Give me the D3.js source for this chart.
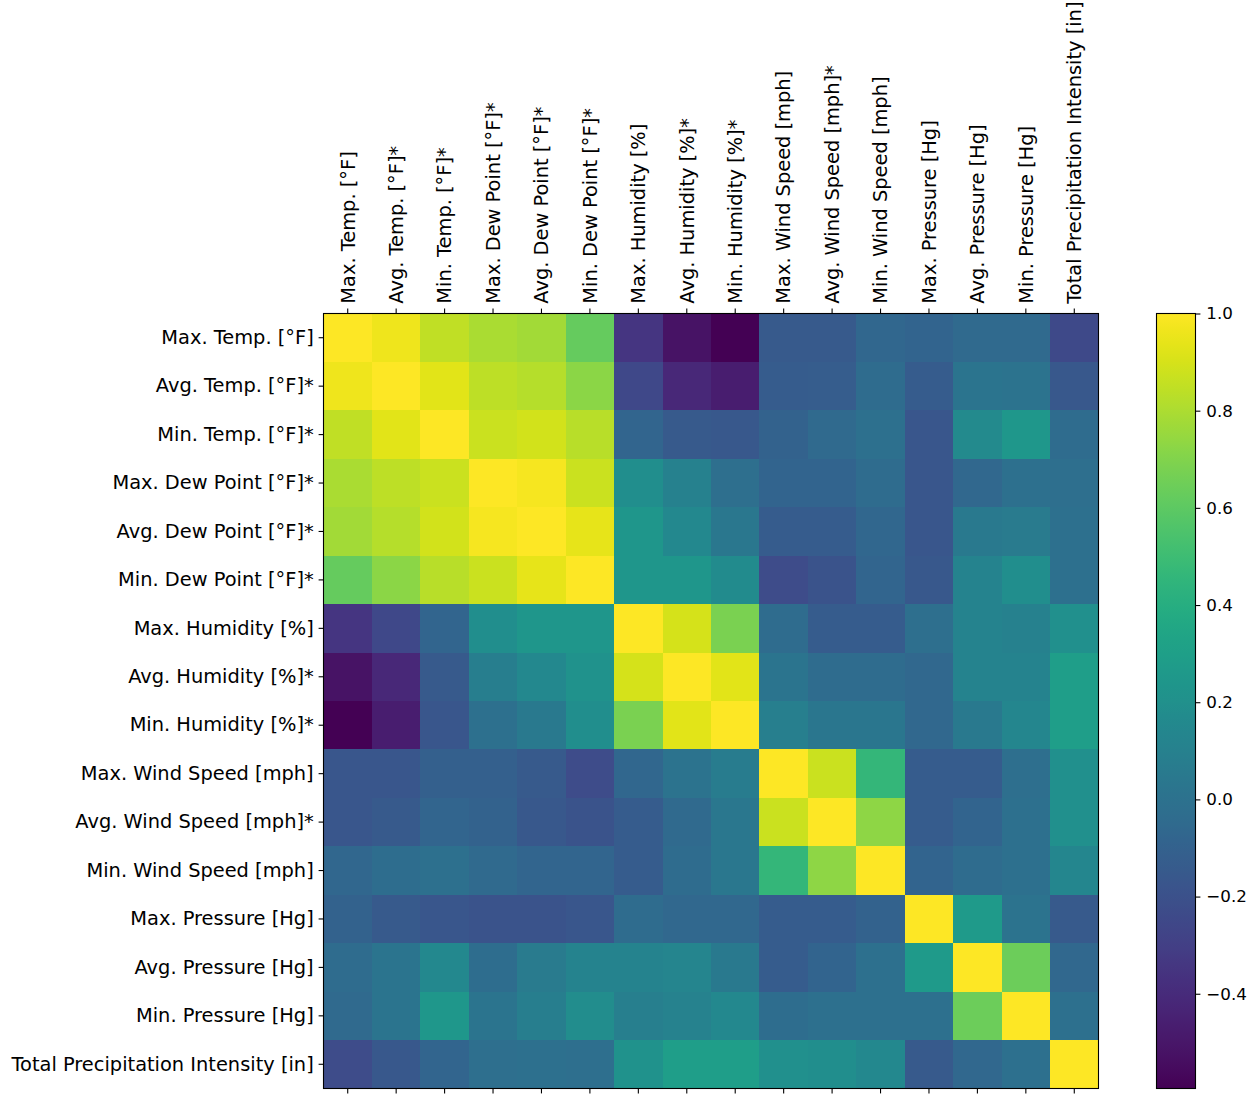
<!DOCTYPE html>
<html>
<head>
<meta charset="utf-8">
<script src="https://cdn.jsdelivr.net/npm/d3@7"></script>
<style>
  body { margin: 0; background: #fff; }
  text { font-family: "DejaVu Sans", sans-serif; fill: #000; }
</style>
</head>
<body>
<div id="chart"></div>
<script>
// variable names (same order on both axes)
const labels = [
  "Max. Temp. [°F]", "Avg. Temp. [°F]*", "Min. Temp. [°F]*",
  "Max. Dew Point [°F]*", "Avg. Dew Point [°F]*", "Min. Dew Point [°F]*",
  "Max. Humidity [%]", "Avg. Humidity [%]*", "Min. Humidity [%]*",
  "Max. Wind Speed [mph]", "Avg. Wind Speed [mph]*", "Min. Wind Speed [mph]",
  "Max. Pressure [Hg]", "Avg. Pressure [Hg]", "Min. Pressure [Hg]",
  "Total Precipitation Intensity [in]"
];

// correlation rows
const corr = [
  [1.00, 0.96, 0.85, 0.80, 0.78, 0.62, -0.35, -0.52, -0.595, -0.15, -0.15, -0.07, -0.09, -0.05, -0.05, -0.24],
  [0.96, 1.00, 0.93, 0.84, 0.82, 0.72, -0.25, -0.42, -0.47, -0.14, -0.13, -0.04, -0.14, 0.02, 0.01, -0.16],
  [0.85, 0.93, 1.00, 0.87, 0.89, 0.83, -0.08, -0.15, -0.16, -0.10, -0.05, -0.01, -0.17, 0.16, 0.25, -0.04],
  [0.80, 0.84, 0.87, 1.00, 0.98, 0.87, 0.19, 0.10, -0.02, -0.09, -0.09, -0.04, -0.17, -0.06, -0.01, -0.02],
  [0.78, 0.82, 0.89, 0.98, 1.00, 0.94, 0.24, 0.15, 0.04, -0.14, -0.14, -0.07, -0.17, 0.05, 0.06, -0.01],
  [0.62, 0.72, 0.83, 0.87, 0.94, 1.00, 0.24, 0.24, 0.17, -0.23, -0.19, -0.08, -0.16, 0.12, 0.19, -0.01],
  [-0.35, -0.25, -0.08, 0.19, 0.24, 0.24, 1.00, 0.90, 0.68, -0.04, -0.14, -0.14, -0.02, 0.12, 0.10, 0.20],
  [-0.52, -0.42, -0.15, 0.08, 0.15, 0.22, 0.90, 1.00, 0.93, 0.02, -0.04, -0.04, -0.06, 0.12, 0.12, 0.29],
  [-0.595, -0.47, -0.17, -0.01, 0.05, 0.19, 0.68, 0.93, 1.00, 0.09, 0.03, 0.03, -0.06, 0.05, 0.14, 0.29],
  [-0.17, -0.17, -0.11, -0.11, -0.15, -0.23, -0.07, 0.01, 0.07, 1.00, 0.87, 0.46, -0.14, -0.14, -0.02, 0.20],
  [-0.17, -0.15, -0.08, -0.10, -0.16, -0.19, -0.14, -0.05, 0.04, 0.87, 1.00, 0.73, -0.14, -0.09, -0.01, 0.20],
  [-0.07, -0.03, -0.01, -0.05, -0.08, -0.08, -0.14, -0.04, 0.04, 0.46, 0.73, 1.00, -0.09, -0.04, -0.01, 0.14],
  [-0.10, -0.15, -0.17, -0.19, -0.19, -0.17, -0.04, -0.06, -0.06, -0.14, -0.14, -0.10, 1.00, 0.27, 0.01, -0.15],
  [-0.04, 0.02, 0.15, -0.03, 0.06, 0.12, 0.12, 0.13, 0.05, -0.14, -0.09, -0.01, 0.27, 1.00, 0.64, -0.06],
  [-0.05, 0.02, 0.25, 0.02, 0.08, 0.18, 0.09, 0.11, 0.15, -0.03, -0.01, -0.01, -0.01, 0.64, 1.00, -0.01],
  [-0.23, -0.16, -0.08, -0.02, -0.01, -0.02, 0.21, 0.29, 0.29, 0.20, 0.19, 0.15, -0.15, -0.06, -0.01, 1.00]
];

const cbarTicks = [-0.4, -0.2, 0.0, 0.2, 0.4, 0.6, 0.8, 1.0];

const W = 1248, H = 1102;
const plot = {left: 323.5, top: 313.5, size: 775};
const cbar = {left: 1156.5, width: 39};

const svg = d3.select("#chart").append("svg")
  .attr("width", W).attr("height", H);

// flatten for drawing
const cells = [];
corr.forEach((row, i) => row.forEach((v, j) => cells.push({i, j, v})));

const vmin = d3.min(cells, d => d.v), vmax = d3.max(cells, d => d.v);
const color = d3.scaleSequential(d3.interpolateViridis).domain([vmin, vmax]);

const x = d3.scaleBand().domain(labels).range([0, plot.size]);
const y = d3.scaleBand().domain(labels).range([0, plot.size]);

const g = svg.append("g")
  .attr("transform", "translate(" + plot.left + "," + plot.top + ")");

g.selectAll("rect.cell")
  .data(cells)
  .enter().append("rect")
    .attr("class", "cell")
    .attr("x", d => x(labels[d.j]))
    .attr("y", d => y(labels[d.i]))
    .attr("width", x.bandwidth() + 0.5)
    .attr("height", y.bandwidth() + 0.5)
    .attr("fill", d => color(d.v))
    .attr("shape-rendering", "crispEdges");

const fontSize = 19.4, tickLen = 4.9, pad = 4.9;

function styleAxis(sel) {
  sel.select(".domain").remove();
  sel.selectAll(".tick line").attr("stroke", "#000").attr("stroke-width", 1.1);
  sel.selectAll(".tick text").style("font-size", fontSize + "px")
    .style("font-family", "DejaVu Sans");
}

// top axis, rotated labels
const topAxis = g.append("g")
  .call(d3.axisTop(x).tickSize(tickLen).tickPadding(pad))
  .call(styleAxis);
topAxis.selectAll(".tick text")
  .attr("transform", "rotate(-90)")
  .attr("x", tickLen + pad)
  .attr("y", 0)
  .attr("dy", "0.35em")
  .style("text-anchor", "start");

// left axis
g.append("g")
  .call(d3.axisLeft(y).tickSize(tickLen).tickPadding(pad))
  .call(styleAxis);

// bottom ticks only
g.append("g")
  .attr("transform", "translate(0," + plot.size + ")")
  .call(d3.axisBottom(x).tickSize(tickLen).tickFormat(""))
  .call(styleAxis);

// frame
g.append("rect")
  .attr("width", plot.size).attr("height", plot.size)
  .attr("fill", "none").attr("stroke", "#000").attr("stroke-width", 1.1);

// colorbar
const defs = svg.append("defs");
const grad = defs.append("linearGradient")
  .attr("id", "viridis")
  .attr("x1", "0%").attr("y1", "100%").attr("x2", "0%").attr("y2", "0%");
d3.range(0, 1.0001, 0.02).forEach(t => {
  grad.append("stop")
    .attr("offset", (t * 100) + "%")
    .attr("stop-color", d3.interpolateViridis(t));
});

const cy = d3.scaleLinear().domain([vmin, vmax]).range([plot.size, 0]);
const cb = svg.append("g")
  .attr("transform", "translate(" + cbar.left + "," + plot.top + ")");

cb.append("rect")
  .attr("width", cbar.width).attr("height", plot.size)
  .attr("fill", "url(#viridis)");

const cbAxis = cb.append("g")
  .attr("transform", "translate(" + cbar.width + ",0)")
  .call(d3.axisRight(cy).tickValues(cbarTicks).tickFormat(d3.format(".1f"))
    .tickSize(tickLen).tickPadding(pad + 1));
cbAxis.select(".domain").remove();
cbAxis.selectAll(".tick line").attr("stroke", "#000").attr("stroke-width", 1.1);
cbAxis.selectAll(".tick text").style("font-size", "16.7px")
  .style("font-family", "DejaVu Sans");

cb.append("rect")
  .attr("width", cbar.width).attr("height", plot.size)
  .attr("fill", "none").attr("stroke", "#000").attr("stroke-width", 1.1);
</script>
</body>
</html>
